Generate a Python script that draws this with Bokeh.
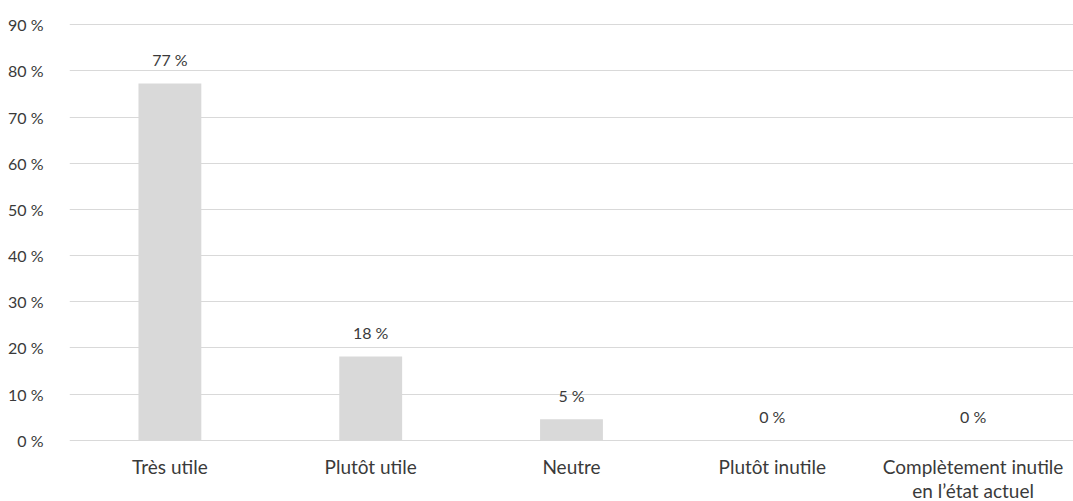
from bokeh.plotting import figure
from bokeh.layouts import column
from bokeh.models import ColumnDataSource, FixedTicker, PrintfTickFormatter, Range1d, FactorRange
from bokeh.core.properties import value
from bokeh.embed import file_html
from bokeh.resources import INLINE

# Survey answers (share of respondents, %)
categories = ["Très utile", "Plutôt utile", "Neutre", "Plutôt inutile",
              "Complètement inutile\nen l’état actuel"]
shares = [77.27, 18.18, 4.55, 0.0, 0.0]
y_ticks = [0, 10, 20, 30, 40, 50, 60, 70, 80, 90]

FONT = "Lato"
TEXT = "#3a3a3a"
GRAY = "#d9d9d9"

labels = [f"{round(s):d} %" for s in shares]
src = ColumnDataSource(dict(cat=categories, share=shares, label=labels))
x_range = FactorRange(*categories, range_padding=0)

# main chart
p = figure(
    x_range=x_range,
    y_range=Range1d(-0.25, 90.25),
    width=1073, height=451,
    output_backend="svg", toolbar_location=None,
    min_border_left=69, min_border_right=0,
    min_border_top=23, min_border_bottom=10,
)
p.outline_line_color = None
p.background_fill_color = "white"
p.border_fill_color = "white"

p.vbar(x="cat", top="share", width=0.313, source=src,
       fill_color=GRAY, line_color=None)

p.text(x="cat", y="share", text="label", source=src,
       text_align="center", text_baseline="middle", y_offset=-24,
       text_font=value(FONT), text_font_size="16px", text_color=TEXT)

p.xgrid.grid_line_color = None
p.ygrid.grid_line_color = GRAY
p.ygrid.grid_line_width = 1

p.yaxis.ticker = FixedTicker(ticks=y_ticks)
p.yaxis.formatter = PrintfTickFormatter(format="%d %%")
p.yaxis.axis_line_color = None
p.yaxis.major_tick_line_color = None
p.yaxis.minor_tick_line_color = None
p.yaxis.major_label_text_font = FONT
p.yaxis.major_label_text_font_size = "16px"
p.yaxis.major_label_text_color = TEXT
p.yaxis.major_label_standoff = 20
p.xaxis.visible = False

# category names strip, sharing the chart's x range
q = figure(
    x_range=x_range,
    y_range=Range1d(0, 1),
    width=1073, height=50,
    output_backend="svg", toolbar_location=None,
    min_border_left=69, min_border_right=0,
    min_border_top=0, min_border_bottom=0,
)
q.outline_line_color = None
q.xaxis.visible = False
q.yaxis.visible = False
q.grid.visible = False
q.text(x=categories, y=[1] * len(categories), text=categories,
       text_align="center", text_baseline="top", y_offset=3,
       text_font=value(FONT), text_font_size="19px", text_color=TEXT,
       text_line_height=1.05)

layout = column(p, q, spacing=0)
open("out.html", "w").write(file_html(layout, INLINE))
